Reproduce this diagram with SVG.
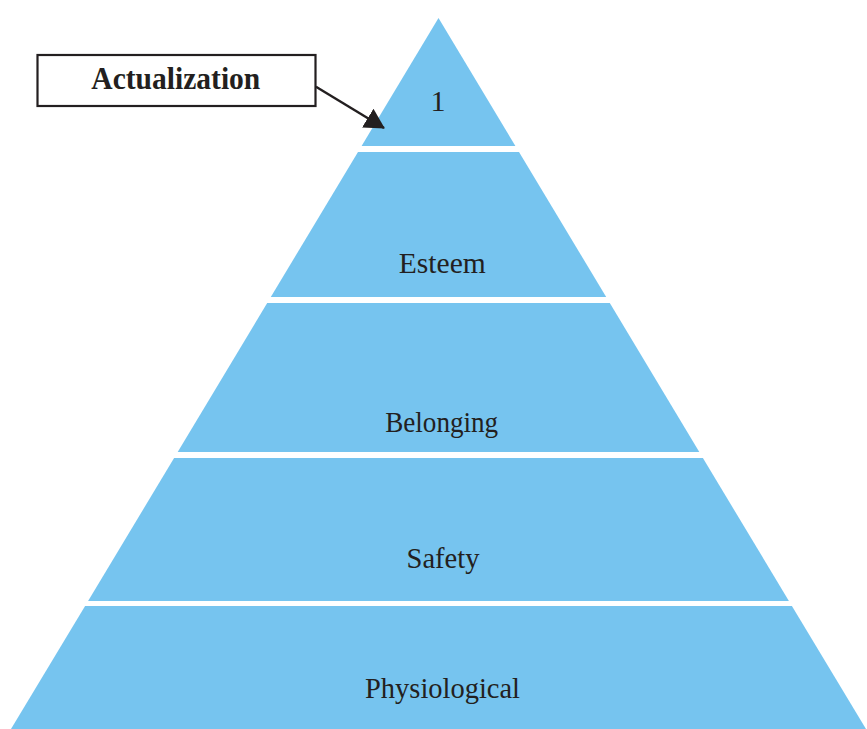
<svg xmlns="http://www.w3.org/2000/svg" width="867" height="729" viewBox="0 0 867 729">
<style>
.tier{fill:#76C4EF;stroke:none}
.lbl{font-family:"Liberation Serif","Times New Roman",serif;font-size:30px;fill:#231F20;text-anchor:middle}
.box{fill:#fff;stroke:#231F20;stroke-width:2.2}
.boxlbl{font-family:"Liberation Serif","Times New Roman",serif;font-size:32px;font-weight:bold;fill:#231F20;text-anchor:middle}
.conn{stroke:#231F20;stroke-width:2.4;fill:none}
</style>
<defs>
<marker id="ah" viewBox="0 0 20 22" refX="19" refY="11" markerWidth="20" markerHeight="22" markerUnits="userSpaceOnUse" orient="auto">
<path d="M0,0 L20,11 L0,22 Z" fill="#231F20"/>
</marker>
</defs>
<rect width="867" height="729" fill="#fff"/>
<g id="tier1">
<polygon class="tier" points="438.5,18 515.4,146 361.6,146"/>
<text class="lbl" x="438" y="111">1</text>
</g>
<g id="tier2">
<polygon class="tier" points="358,152 519,152 606.2,297 270.8,297"/>
<text class="lbl" x="442.3" y="273.3" textLength="87" lengthAdjust="spacingAndGlyphs">Esteem</text>
</g>
<g id="tier3">
<polygon class="tier" points="267.2,303 609.8,303 699.3,452 177.7,452"/>
<text class="lbl" x="441.7" y="431.7" textLength="113" lengthAdjust="spacingAndGlyphs">Belonging</text>
</g>
<g id="tier4">
<polygon class="tier" points="174.1,458 702.9,458 788.9,601 88.1,601"/>
<text class="lbl" x="443" y="568.3" textLength="73" lengthAdjust="spacingAndGlyphs">Safety</text>
</g>
<g id="tier5">
<polygon class="tier" points="85.1,606 791.9,606 866,729 11,729"/>
<text class="lbl" x="442.5" y="698" textLength="155" lengthAdjust="spacingAndGlyphs">Physiological</text>
</g>
<g id="actualization">
<rect class="box" x="37.5" y="55" width="278" height="51"/>
<text class="boxlbl" x="175.8" y="89.3" textLength="169" lengthAdjust="spacingAndGlyphs">Actualization</text>
</g>
<g id="connectors">
<line class="conn" x1="316" y1="86.7" x2="384" y2="128" marker-end="url(#ah)"/>
</g>
</svg>
